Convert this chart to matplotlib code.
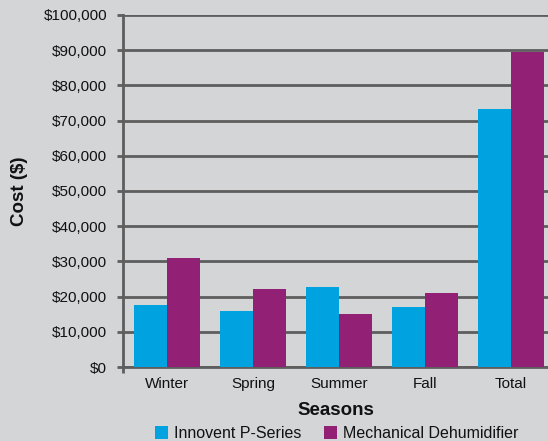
import numpy as np
import matplotlib
matplotlib.use('Agg')
import matplotlib.pyplot as plt
from matplotlib.ticker import FuncFormatter

# datos
seasons = ['Winter', 'Spring', 'Summer', 'Fall', 'Total']
innovent = [17600, 15900, 22700, 17000, 73300]
mechanical = [31000, 22200, 15100, 21000, 89500]
yticks = [0, 10000, 20000, 30000, 40000, 50000, 60000, 70000, 80000, 90000, 100000]

bg = '#d4d5d7'
blue = '#00a3e0'
purple = '#922175'
grid_col = '#5e5e5e'

plt.rcParams['font.family'] = ['Liberation Sans', 'DejaVu Sans']

fig = plt.figure(figsize=(5.48, 4.41), dpi=100, facecolor=bg)
ax = fig.add_axes([123/548, 1-367/441, 425/548, (367-15)/441])
ax.set_facecolor(bg)

x = np.arange(len(seasons))
w = 0.385
ax.bar(x - w/2, innovent, w, color=blue, label='Innovent P-Series', zorder=3)
ax.bar(x + w/2, mechanical, w, color=purple, label='Mechanical Dehumidifier', zorder=3)

ax.set_xlim(-0.51, 4.43)
ax.set_ylim(0, 100000)
ax.set_yticks(yticks)
ax.yaxis.set_major_formatter(FuncFormatter(lambda v, p: f'${v:,.0f}'))
ax.set_xticks(x)
ax.set_xticklabels(seasons)
# marca pequeña bajo el eje en el origen
ax.set_xticks([-0.51], minor=True)

ax.grid(axis='y', color=grid_col, linewidth=2.0, zorder=1)
ax.set_axisbelow(True)

for s in ['top', 'right']:
    ax.spines[s].set_visible(False)
for s in ['left', 'bottom']:
    ax.spines[s].set_color(grid_col)
    ax.spines[s].set_linewidth(2.0)

ax.tick_params(axis='y', length=4, width=2, color=grid_col, labelsize=11, pad=7.5, labelcolor='#111111')
ax.tick_params(axis='x', which='major', length=0, labelsize=11, pad=7, labelcolor='#111111')
ax.tick_params(axis='x', which='minor', length=4, width=2, color=grid_col)

ax.set_xlabel('Seasons', fontsize=13.5, fontweight='bold', labelpad=8, color='#111111')
ax.set_ylabel('Cost ($)', fontsize=13.5, fontweight='bold', color='#111111')
ax.yaxis.set_label_coords(-(123-28)/425, 0.5)

fig.legend(loc='center', bbox_to_anchor=(337/548, 1-433.5/441), ncol=2, frameon=False,
           fontsize=11.5, handlelength=0.8, handleheight=0.8, handletextpad=0.4,
           columnspacing=1.4, borderaxespad=0, labelcolor='#111111')

fig.savefig('out.png', dpi=100, facecolor=bg)
